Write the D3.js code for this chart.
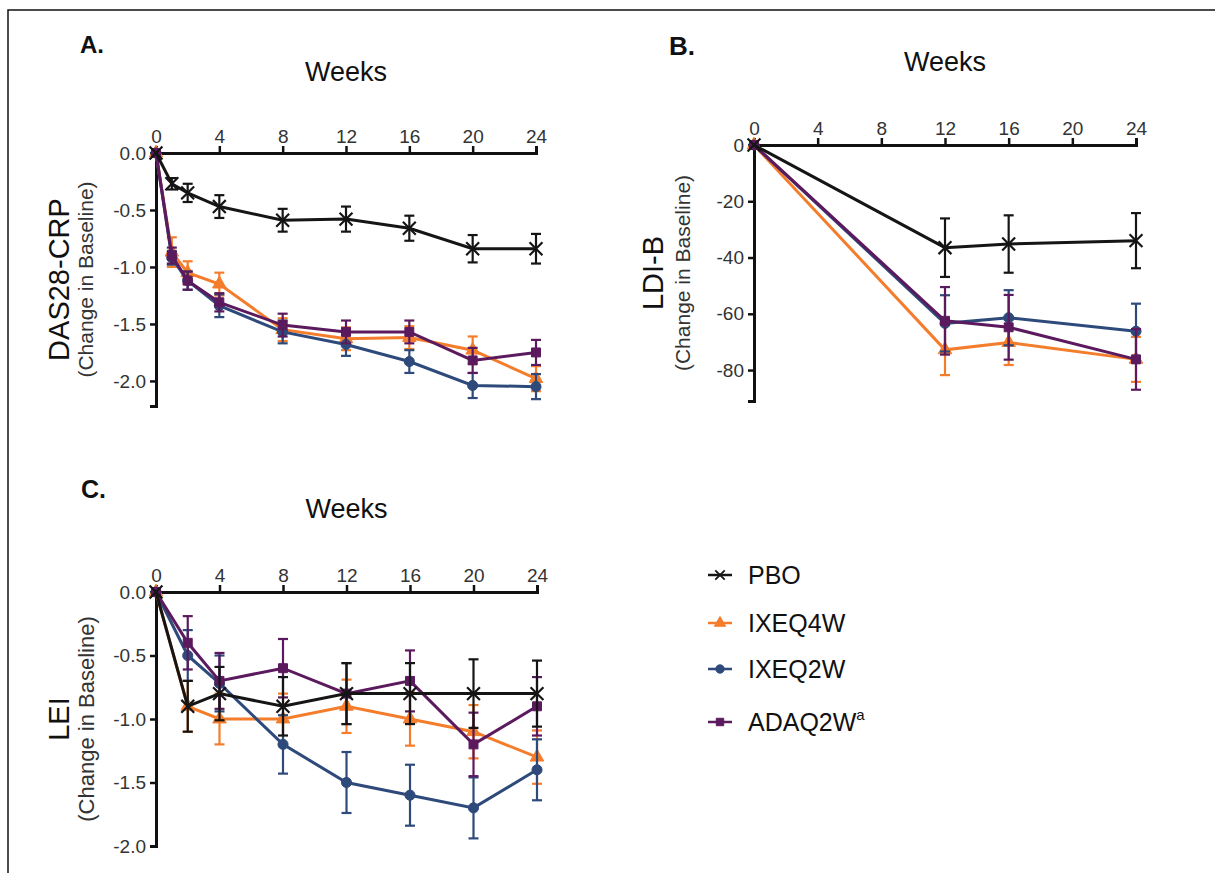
<!DOCTYPE html>
<html>
<head>
<meta charset="utf-8">
<script src="https://cdn.jsdelivr.net/npm/d3@7"></script>
<style>
  body { margin:0; background:#fff; }
  svg { font-family: "Liberation Sans", Arial, sans-serif; }
  .tick text { fill:#333; }
</style>
</head>
<body>
<div id="chart"></div>
<script>
// series names + legend labels
var seriesNames = ['PBO','IXEQ4W','IXEQ2W','ADAQ2W']

// A. DAS28-CRP
var weeksA = [0,1,2,4,8,12,16,20,24]
var pboA   = [0,-0.27,-0.35,-0.47,-0.59,-0.58,-0.66,-0.84,-0.84]
var pboAe  = [0,0.05,0.08,0.10,0.10,0.11,0.11,0.12,0.13]
var q4wA   = [0,-0.87,-1.05,-1.15,-1.55,-1.63,-1.62,-1.73,-1.98]
var q4wAe  = [0,0.13,0.10,0.10,0.10,0.10,0.10,0.12,0.11]
var q2wA   = [0,-0.92,-1.12,-1.34,-1.57,-1.68,-1.83,-2.04,-2.05]
var q2wAe  = [0,0.06,0.08,0.10,0.10,0.10,0.10,0.11,0.11]
var adaA   = [0,-0.90,-1.12,-1.31,-1.51,-1.57,-1.57,-1.82,-1.75]
var adaAe  = [0,0.07,0.08,0.08,0.10,0.10,0.10,0.11,0.11]

// B. LDI-B
var weeksB = [0,12,16,24]
var pboB   = [0,-36.5,-35.2,-34]
var pboBe  = [0,10.4,10.2,9.8]
var q4wB   = [0,-72.8,-70.2,-76.2]
var q4wBe  = [0,9,8,8]
var q2wB   = [0,-63.4,-61.4,-66.2]
var q2wBe  = [0,10,9.8,9.8]
var adaB   = [0,-62.5,-64.8,-76.2]
var adaBe  = [0,12,11.5,10.8]

// C. LEI
var weeksC = [0,2,4,8,12,16,20,24]
var pboC   = [0,-0.9,-0.8,-0.9,-0.8,-0.8,-0.8,-0.8]
var pboCe  = [0,0.20,0.21,0.23,0.24,0.24,0.27,0.26]
var q4wC   = [0,-0.9,-1.0,-1.0,-0.9,-1.0,-1.1,-1.3]
var q4wCe  = [0,0.20,0.20,0.20,0.21,0.21,0.21,0.21]
var q2wC   = [0,-0.5,-0.72,-1.2,-1.5,-1.6,-1.7,-1.4]
var q2wCe  = [0,0.20,0.22,0.23,0.24,0.24,0.24,0.24]
var adaC   = [0,-0.4,-0.7,-0.6,-0.8,-0.7,-1.2,-0.9]
var adaCe  = [0,0.21,0.22,0.23,0.24,0.24,0.25,0.23]

var xTicks  = [0,4,8,12,16,20,24]
var yTicksA = [0,-0.5,-1,-1.5,-2]
var yTicksB = [0,-20,-40,-60,-80]
var yTicksC = [0,-0.5,-1,-1.5,-2]

var colors = {PBO:'#151515', IXEQ4W:'#f47d2c', IXEQ2W:'#2d4a7a', ADAQ2W:'#5c1a5e'}
var shapes = {PBO:d3.symbolX, IXEQ4W:d3.symbolTriangle, IXEQ2W:d3.symbolCircle, ADAQ2W:d3.symbolSquare}
// draw order: purple over blue/orange, placebo last
var drawOrder = ['IXEQ4W','IXEQ2W','ADAQ2W','PBO']

var W = 1215, H = 873
var svg = d3.select('#chart').append('svg')
  .attr('width', W).attr('height', H)

// outer frame (runs off the right/bottom edge)
svg.append('rect')
  .attr('x',8).attr('y',10).attr('width',1230).attr('height',900)
  .attr('fill','none').attr('stroke','#111').attr('stroke-width',1.5)

function fmt1(d){ return d3.format('.1f')(d).replace('\u2212','-') }
function fmt0(d){ return d3.format('d')(d).replace('\u2212','-') }

function drawPanel(p){
  var x = d3.scaleLinear().domain([0,24]).range(p.xr)
  var y = d3.scaleLinear().domain(p.yd).range(p.yr)
  var g = svg.append('g')

  // panel letter + top axis title
  g.append('text').attr('x',p.letter[0]).attr('y',p.letter[1])
    .attr('font-size',p.letter[2]).attr('font-weight','bold').attr('fill','#111')
    .text(p.letter[3])
  g.append('text').attr('x',(p.xr[0]+p.xr[1])/2).attr('y',p.weeksY)
    .attr('text-anchor','middle').attr('font-size',27).attr('fill','#111')
    .text('Weeks')

  // y titles
  var cy = (p.yr[0]+p.yr[1])/2
  g.append('text')
    .attr('transform','translate('+p.titleX+','+cy+') rotate(-90)')
    .attr('text-anchor','middle').attr('font-size',29).attr('fill','#111')
    .text(p.title)
  g.append('text')
    .attr('transform','translate('+p.subX+','+cy+') rotate(-90)')
    .attr('text-anchor','middle').attr('font-size',p.subSize).attr('fill','#333')
    .text('(Change in Baseline)')

  // axes
  var xa = g.append('g').attr('transform','translate(0,'+p.yr[1]+')')
    .call(d3.axisTop(x).tickValues(xTicks).tickSizeOuter(0).tickSize(7).tickPadding(3))
  var ya = g.append('g').attr('transform','translate('+p.xr[0]+',0)')
    .call(d3.axisLeft(y).tickValues(p.yTicks).tickFormat(p.fmt).tickSizeOuter(0).tickSize(6).tickPadding(4))
  ;[xa,ya].forEach(function(a){
    a.select('.domain').attr('stroke','#111').attr('stroke-width',3)
    a.selectAll('.tick line').attr('stroke','#111').attr('stroke-width',2.5)
    a.selectAll('.tick text').attr('font-size',19).attr('font-family','"Liberation Sans", Arial, sans-serif')
  })

  var line = d3.line().x(function(d){ return x(d[0]) }).y(function(d){ return y(d[1]) })

  drawOrder.forEach(function(name){
    var s = p.series[name]
    var col = colors[name]
    var pts = p.weeks.map(function(w,i){ return [w, s.v[i], s.e[i]] })
    var sg = g.append('g')
    // error bars
    var eb = sg.selectAll('.eb').data(pts.filter(function(d){ return d[2] > 0 })).enter().append('g')
    eb.append('line')
      .attr('x1',function(d){ return x(d[0]) }).attr('x2',function(d){ return x(d[0]) })
      .attr('y1',function(d){ return y(d[1]+d[2]) }).attr('y2',function(d){ return y(d[1]-d[2]) })
      .attr('stroke',col).attr('stroke-width',2.2)
    ;[1,-1].forEach(function(sgn){
      eb.append('line')
        .attr('x1',function(d){ return x(d[0])-5 }).attr('x2',function(d){ return x(d[0])+5 })
        .attr('y1',function(d){ return y(d[1]+sgn*d[2]) }).attr('y2',function(d){ return y(d[1]+sgn*d[2]) })
        .attr('stroke',col).attr('stroke-width',2.2)
    })
    // line
    sg.append('path').datum(pts).attr('d',line)
      .attr('fill','none').attr('stroke',col).attr('stroke-width',3)
    // markers
    var sym = d3.symbol().type(shapes[name]).size(name=='PBO' ? 110 : 80)
    sg.selectAll('.m').data(pts).enter().append('path')
      .attr('transform',function(d){ return 'translate('+x(d[0])+','+y(d[1])+')' })
      .attr('d',sym)
      .attr('fill',name=='PBO' ? 'none' : col)
      .attr('stroke',col).attr('stroke-width',name=='PBO' ? 2.2 : 1)
  })
}

drawPanel({
  xr:[156,536], yd:[-2.22,0], yr:[406,153], yTicks:yTicksA, fmt:fmt1,
  letter:[80,53,24,'A.'], weeksY:81, title:'DAS28-CRP', titleX:69, subX:93, subSize:21,
  weeks:weeksA,
  series:{PBO:{v:pboA,e:pboAe}, IXEQ4W:{v:q4wA,e:q4wAe}, IXEQ2W:{v:q2wA,e:q2wAe}, ADAQ2W:{v:adaA,e:adaAe}}
})
drawPanel({
  xr:[754,1136], yd:[-91,0], yr:[401,145], yTicks:yTicksB, fmt:fmt0,
  letter:[669,55,26,'B.'], weeksY:71, title:'LDI-B', titleX:663, subX:690, subSize:21,
  weeks:weeksB,
  series:{PBO:{v:pboB,e:pboBe}, IXEQ4W:{v:q4wB,e:q4wBe}, IXEQ2W:{v:q2wB,e:q2wBe}, ADAQ2W:{v:adaB,e:adaBe}}
})
drawPanel({
  xr:[156,537], yd:[-2,0], yr:[846,592], yTicks:yTicksC, fmt:fmt1,
  letter:[81,498,25,'C.'], weeksY:518, title:'LEI', titleX:69, subX:94, subSize:22,
  weeks:weeksC,
  series:{PBO:{v:pboC,e:pboCe}, IXEQ4W:{v:q4wC,e:q4wCe}, IXEQ2W:{v:q2wC,e:q2wCe}, ADAQ2W:{v:adaC,e:adaCe}}
})

// legend
var legY = [575, 623, 669, 722]
var leg = svg.append('g')
seriesNames.forEach(function(name,i){
  var col = colors[name]
  var gy = legY[i]
  leg.append('line').attr('x1',708).attr('x2',732).attr('y1',gy).attr('y2',gy)
    .attr('stroke',col).attr('stroke-width',2.5)
  leg.append('path').attr('transform','translate(720,'+gy+')')
    .attr('d',d3.symbol().type(shapes[name]).size(name=='PBO' ? 60 : 55))
    .attr('fill',name=='PBO' ? 'none' : col).attr('stroke',col).attr('stroke-width',name=='PBO' ? 1.8 : 1)
  var t = leg.append('text').attr('x',748).attr('y',gy+9).attr('font-size',25).attr('fill','#111')
    .text(name)
  if(name=='ADAQ2W'){
    t.append('tspan').attr('font-size',15).attr('dy',-11).text('a')
  }
})
</script>
</body>
</html>
